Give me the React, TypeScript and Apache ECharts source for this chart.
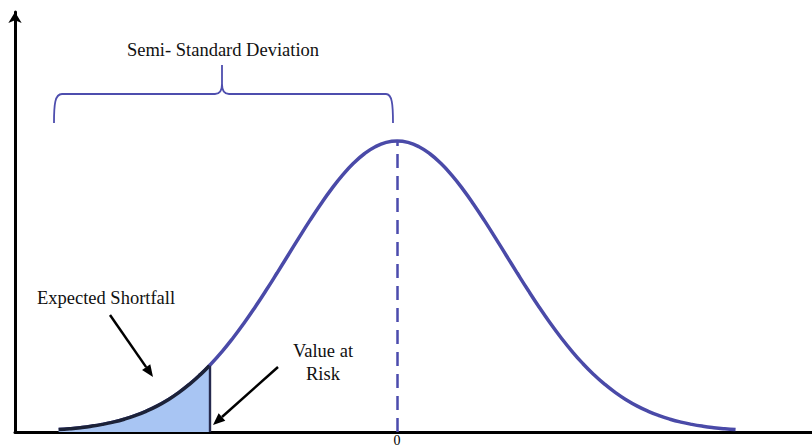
import React, { useEffect, useRef } from "react";
import * as echarts from "echarts";

// x positions in standard deviations, heights relative to the peak
const curveX = [
  -3.1, -3.0, -2.9, -2.8, -2.7, -2.6, -2.5, -2.4, -2.3, -2.2, -2.1, -2.0, -1.9, -1.8, -1.72, -1.6, -1.5, -1.4, -1.3, -1.2, -1.1,
  -1.0, -0.9, -0.8, -0.7, -0.6, -0.5, -0.4, -0.3, -0.2, -0.1, 0, 0.1, 0.2, 0.3, 0.4, 0.5, 0.6, 0.7, 0.8, 0.9, 1.0, 1.1, 1.2, 1.3,
  1.4, 1.5, 1.6, 1.7, 1.8, 1.9, 2.0, 2.1, 2.2, 2.3, 2.4, 2.5, 2.6, 2.7, 2.8, 2.9, 3.0, 3.1,
];
const curveY = [
  0.0082, 0.0111, 0.0149, 0.0198, 0.0261, 0.034, 0.0439, 0.0561, 0.071, 0.0889, 0.1103, 0.1353, 0.1645, 0.1979, 0.2278, 0.278,
  0.3247, 0.3753, 0.4296, 0.4868, 0.5461, 0.6065, 0.667, 0.7261, 0.7827, 0.8353, 0.8825, 0.9231, 0.956, 0.9802, 0.995, 1,
  0.995, 0.9802, 0.956, 0.9231, 0.8825, 0.8353, 0.7827, 0.7261, 0.667, 0.6065, 0.5461, 0.4868, 0.4296, 0.3753, 0.3247, 0.278,
  0.2357, 0.1979, 0.1645, 0.1353, 0.1103, 0.0889, 0.071, 0.0561, 0.0439, 0.034, 0.0261, 0.0198, 0.0149, 0.0111, 0.0082,
];
const varX = -1.72;
const varY = 0.2278;
const meanX = 0;
const peakY = 1;
const xTickLabels = ["0"];

const SERIF = '"Liberation Serif", "Times New Roman", serif';

const braceD =
  "M54,123 C54,104 55,94 62,94 L215,94 C220,94 222,91 222,84 L222,65 L222,84 C222,91 224,94 229,94 L386,94 C392,94 393,104 393,123";
echarts.graphic.registerShape("brace", echarts.graphic.extendPath(braceD, {}));

function arrow(x1: number, y1: number, x2: number, y2: number, head = 12, half = 5) {
  const dx = x2 - x1;
  const dy = y2 - y1;
  const len = Math.sqrt(dx * dx + dy * dy);
  const ux = dx / len;
  const uy = dy / len;
  const bx = x2 - head * ux;
  const by = y2 - head * uy;
  const nx = -uy;
  const ny = ux;
  return [
    {
      type: "line",
      shape: { x1, y1, x2: bx, y2: by },
      style: { stroke: "#000", lineWidth: 2.5 },
    },
    {
      type: "polygon",
      shape: {
        points: [
          [x2, y2],
          [bx + half * nx, by + half * ny],
          [bx - half * nx, by - half * ny],
        ],
      },
      style: { fill: "#000" },
    },
  ];
}

export default function App() {
  const ref = useRef<HTMLDivElement>(null);
  useEffect(() => {
    if (!ref.current) return;
    const chart = echarts.init(ref.current, undefined, { renderer: "svg" });
    const curveData = curveX.map((x, i) => [x, curveY[i]]);
    const tailData = curveData.filter((d) => d[0] <= varX);
    const textStyle = (text: string, x: number, y: number) => ({
      type: "text",
      x,
      y,
      style: {
        text,
        fill: "#111",
        font: `18.5px ${SERIF}`,
        textAlign: "center",
        textVerticalAlign: "middle",
      },
    });
    chart.setOption({
      animation: false,
      grid: { left: 15, right: 0, top: 12, bottom: 15, containLabel: false, outerBoundsMode: "none" },
      xAxis: {
        type: "value",
        min: -3.5,
        max: 3.8,
        interval: 0.5,
        axisLine: { show: true, onZero: false, lineStyle: { color: "#000", width: 3 } },
        axisTick: { show: false },
        splitLine: { show: false },
        axisLabel: {
          margin: 1,
          color: "#000",
          fontFamily: SERIF,
          fontSize: 14,
          lineHeight: 14,
          formatter: (v: number) => (Math.abs(v - meanX) < 1e-9 ? xTickLabels[0] : ""),
        },
      },
      yAxis: {
        type: "value",
        min: 0,
        max: 1.443,
        axisLine: {
          show: true,
          onZero: false,
          symbol: ["none", "arrow"],
          symbolSize: [10, 11],
          lineStyle: { color: "#000", width: 3 },
        },
        axisTick: { show: false },
        splitLine: { show: false },
        axisLabel: { show: false },
      },
      series: [
        {
          type: "line",
          data: curveData,
          smooth: true,
          showSymbol: false,
          lineStyle: { color: "#4a4aa8", width: 3.5 },
          z: 2,
          markLine: {
            silent: true,
            symbol: ["none", "none"],
            label: { show: false },
            lineStyle: { color: "#4b4bad", width: 2.5, type: [14, 8] },
            data: [
              [
                { coord: [meanX, 0] },
                { coord: [meanX, peakY] },
              ],
            ],
          },
        },
        {
          type: "line",
          data: tailData,
          smooth: true,
          showSymbol: false,
          lineStyle: { color: "#1c2238", width: 3.5 },
          areaStyle: { color: "#a8c5f3", opacity: 1 },
          z: 3,
          markLine: {
            silent: true,
            symbol: ["none", "none"],
            label: { show: false },
            lineStyle: { color: "#262a4e", width: 2.4, type: "solid" },
            data: [
              [
                { coord: [varX, 0] },
                { coord: [varX, varY] },
              ],
            ],
          },
        },
      ],
      graphic: [
        {
          type: "brace",
          x: 0,
          y: 0,
          style: { fill: "none", stroke: "#4e4eae", lineWidth: 1.8 },
        },
        textStyle("Semi- Standard Deviation", 223, 50),
        textStyle("Expected Shortfall", 106, 298),
        textStyle("Value at", 323, 351),
        textStyle("Risk", 323, 374),
        ...arrow(110, 315, 153, 377),
        ...arrow(278, 367, 213, 425),
      ],
    });
    return () => chart.dispose();
  }, []);
  return (
    <div
      ref={ref}
      style={{ position: "fixed", left: 0, top: 0, width: 812, height: 447, background: "#fff" }}
    />
  );
}
